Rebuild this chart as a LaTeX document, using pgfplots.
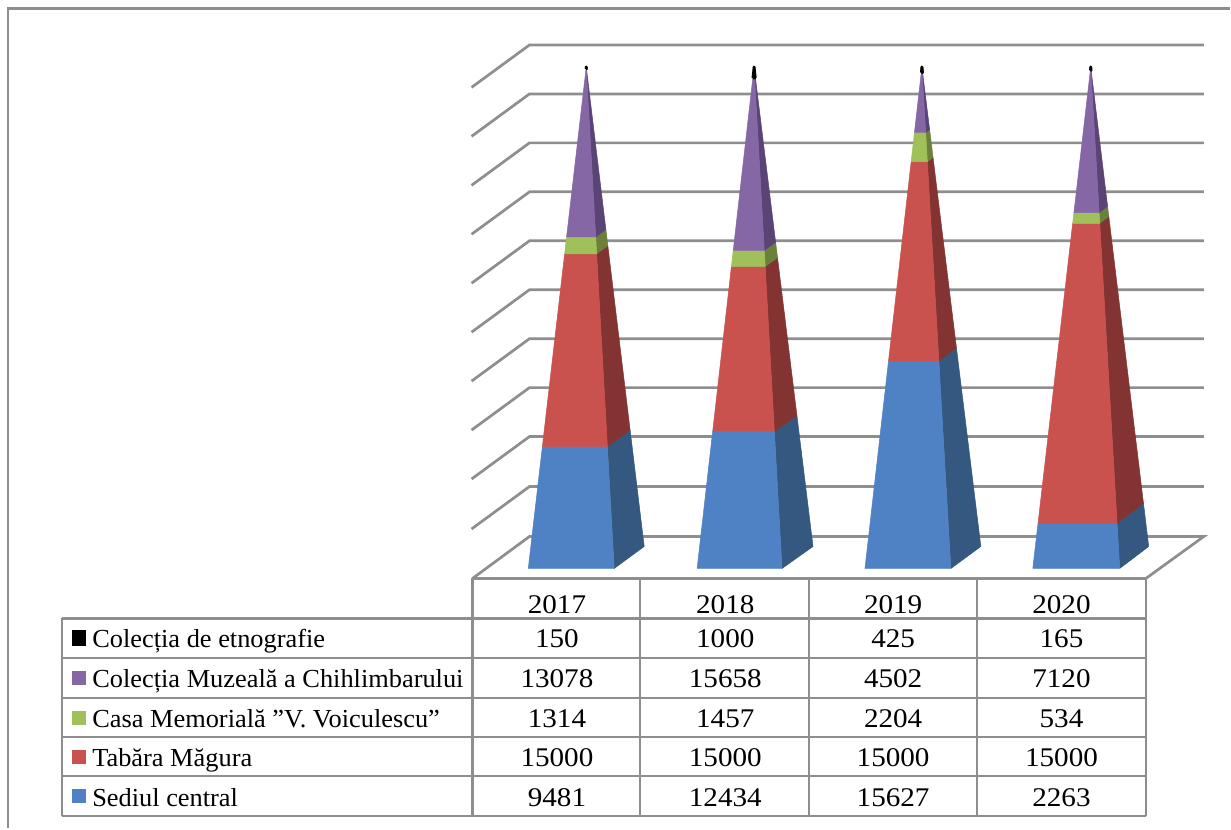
\documentclass[border=0pt]{standalone}
\usepackage{fontspec}
\setmainfont[FakeStretch=1.08]{Liberation Serif}
\newfontfamily\labfont[FakeStretch=1.015]{Liberation Serif}
\usepackage{pgfplots}
\pgfplotsset{compat=1.18}

\definecolor{blueF}{HTML}{4F82C4}
\definecolor{blueS}{HTML}{34587F}
\definecolor{redF}{HTML}{C9524F}
\definecolor{redS}{HTML}{833432}
\definecolor{greenF}{HTML}{A0C05A}
\definecolor{greenS}{HTML}{6B8039}
\definecolor{purpleF}{HTML}{8667A6}
\definecolor{purpleS}{HTML}{5A4475}
\definecolor{gridgray}{HTML}{8E8E8E}

\pgfplotsset{page/.style={
    hide axis, scale only axis, clip=false,
    width=615.5pt, height=414.5pt,
    at={(0,0)}, anchor=south west,
    xmin=0, xmax=1231}}

% one gridline: left wall front end, back corner, back wall end
\newcommand\gridline[1]{%
  \pgfmathsetmacro\yb{#1}\pgfmathsetmacro\yf{#1+42.5}%
  \addplot[gridgray, line width=1.35pt, no markers] coordinates {(472,\yf) (530,\yb) (1205,\yb)};}

\newcommand\vals[6]{%
  \node[anchor=base] at (axis cs:557.5,#1) {#2};
  \node[anchor=base] at (axis cs:726,#1) {#3};
  \node[anchor=base] at (axis cs:894,#1) {#4};
  \node[anchor=base] at (axis cs:1062.5,#1) {#5};
  \node[anchor=base west, inner sep=0pt] at (axis cs:92,#1) {\labfont\fontsize{13}{15}\selectfont #6};}

\newcommand\swatch[3]{\fill[#1] (axis cs:72,#2-#3) rectangle (axis cs:86,#2+#3);}

% one segment of a pyramid, p0 to p1 in percent; #9 is the outline width
\newcommand\seg[9]{%
  \pgfmathsetmacro\la{#1+(#4-#1)*#5/100}\pgfmathsetmacro\lb{#1+(#4-#1)*#6/100}%
  \pgfmathsetmacro\ra{#2+(#4-#2)*#5/100}\pgfmathsetmacro\rb{#2+(#4-#2)*#6/100}%
  \pgfmathsetmacro\ba{#3+(#4-#3)*#5/100}\pgfmathsetmacro\bb{#3+(#4-#3)*#6/100}%
  \pgfmathsetmacro\ya{4.38+0.9562*#5}\pgfmathsetmacro\yb{4.38+0.9562*#6}%
  \addplot[fill=#8, draw=#8, line width=#9, line join=round, no markers] coordinates {(\ra,#5) (\ba,\ya) (\bb,\yb) (\rb,#6) (\ra,#5)};
  \addplot[fill=#7, draw=#7, line width=#9, line join=round, no markers] coordinates {(\la,#5) (\ra,#5) (\rb,#6) (\lb,#6) (\la,#5)};}

% xl, xr front base, xb back base, xa apex, then the five values of the year
\newcommand\pyramid[9]{%
  \pgfmathsetmacro\tot{(#5+#6+#7+#8+#9)}%
  \pgfmathsetmacro\pa{#5/\tot*100}%
  \pgfmathsetmacro\pb{(#5+#6)/\tot*100}%
  \pgfmathsetmacro\pc{(#5+#6+#7)/\tot*100}%
  \pgfmathsetmacro\pd{(#5+#6+#7+#8)/\tot*100}%
  \seg{#1}{#2}{#3}{#4}{0}{\pa}{blueF}{blueS}{0.25pt}
  \seg{#1}{#2}{#3}{#4}{\pa}{\pb}{redF}{redS}{0.25pt}
  \seg{#1}{#2}{#3}{#4}{\pb}{\pc}{greenF}{greenS}{0.25pt}
  \seg{#1}{#2}{#3}{#4}{\pc}{\pd}{purpleF}{purpleS}{0.25pt}
  \seg{#1}{#2}{#3}{#4}{\pd}{100}{black}{black}{1.3pt}}

\begin{document}
\begin{tikzpicture}
\fontsize{13.5}{15}\selectfont
% walls, floor, frame and data table, in image pixels
\begin{axis}[page, ymin=0, ymax=829, y dir=reverse]
  \fill[white] (axis cs:0,0) rectangle (axis cs:1231,829);
  \addplot[gridgray, line width=1.2pt, no markers] coordinates {(1231,8.5) (8,8.5) (8,829)};
  \gridline{45}\gridline{94}\gridline{143}\gridline{192}\gridline{241}
  \gridline{290}\gridline{339}\gridline{388}\gridline{437}\gridline{487}
  \addplot[gridgray, line width=1.35pt, no markers] coordinates {(473,579) (530,537) (1205,537) (1147,579) (473,579)};
  % table
  \addplot[gridgray, line width=1.1pt, no markers] coordinates {(473,579) (473,817)};
  \addplot[gridgray, line width=1.1pt, no markers] coordinates {(641,579) (641,817)};
  \addplot[gridgray, line width=1.1pt, no markers] coordinates {(810,579) (810,817)};
  \addplot[gridgray, line width=1.1pt, no markers] coordinates {(978,579) (978,817)};
  \addplot[gridgray, line width=1.1pt, no markers] coordinates {(1147,579) (1147,817)};
  \addplot[gridgray, line width=1.1pt, no markers] coordinates {(62,619) (62,817)};
  \addplot[gridgray, line width=1.1pt, no markers] coordinates {(62,619) (1147,619)};
  \addplot[gridgray, line width=1.1pt, no markers] coordinates {(62,659) (1147,659)};
  \addplot[gridgray, line width=1.1pt, no markers] coordinates {(62,699) (1147,699)};
  \addplot[gridgray, line width=1.1pt, no markers] coordinates {(62,738) (1147,738)};
  \addplot[gridgray, line width=1.1pt, no markers] coordinates {(62,777) (1147,777)};
  \addplot[gridgray, line width=1.1pt, no markers] coordinates {(62,817) (1147,817)};
  \vals{614}{2017}{2018}{2019}{2020}{}
  \vals{648}{150}{1000}{425}{165}{Colecția de etnografie}
  \vals{688}{13078}{15658}{4502}{7120}{Colecția Muzeală a Chihlimbarului}
  \vals{728}{1314}{1457}{2204}{534}{Casa Memorială ”V. Voiculescu”}
  \vals{767}{15000}{15000}{15000}{15000}{Tabăra Măgura}
  \vals{807}{9481}{12434}{15627}{2263}{Sediul central}
  \swatch{black}{639}{8}
  \swatch{purpleF}{679}{7}
  \swatch{greenF}{719}{7}
  \swatch{redF}{758}{7}
  \swatch{blueF}{797}{7}
\end{axis}
% 100 % stacked pyramids: y runs from 569 px (0) to 67 px (100); values in thousands
\begin{axis}[page, xmin=-0.8, xmax=1230.2, ymin=-51.79, ymax=113.35]
  \pyramid{528}{614}{644}{586}{9.481}{15}{1.314}{13.078}{0.150}
  \pyramid{697}{782}{813}{754}{12.434}{15}{1.457}{15.658}{1.000}
  \pyramid{865}{951}{981}{922}{15.627}{15}{2.204}{4.502}{0.425}
  \pyramid{1033}{1120}{1149}{1091}{2.263}{15}{0.534}{7.120}{0.165}
\end{axis}
\end{tikzpicture}
\end{document}
